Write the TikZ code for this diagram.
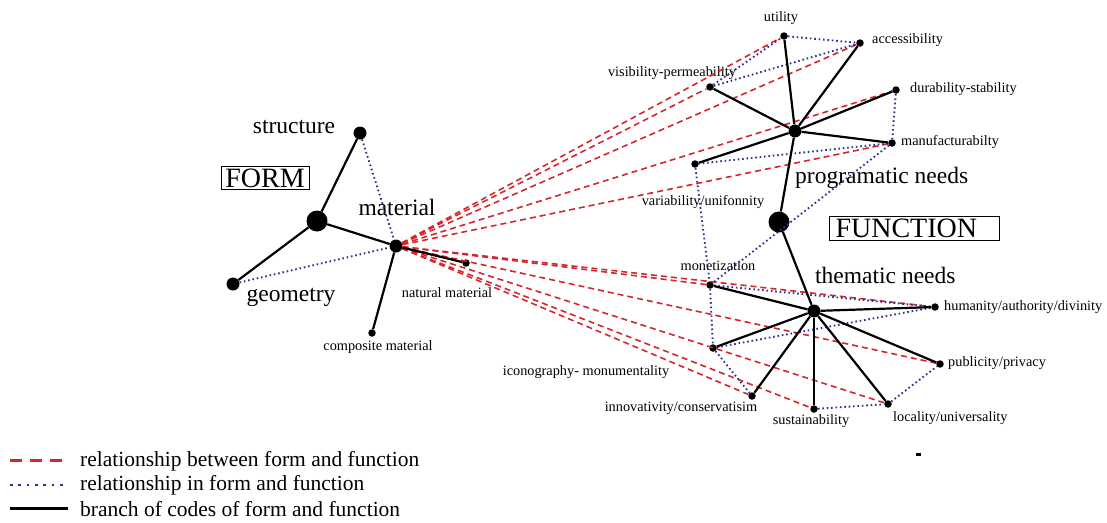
\documentclass[tikz,border=0pt]{standalone}
\usepackage{fontspec}
\setmainfont{Liberation Serif}
\definecolor{relred}{RGB}{212,38,44}
\definecolor{relblue}{RGB}{44,52,140}
\tikzset{
  hub/.style={circle, fill=black, inner sep=0pt, minimum size=21pt},
  mid/.style={circle, fill=black, inner sep=0pt, minimum size=13pt},
  leaf/.style={circle, fill=black, inner sep=0pt, minimum size=7.5pt},
  biglbl/.style={inner sep=0pt, font=\fontsize{23.5}{26}\selectfont},
  smalllbl/.style={inner sep=0pt, font=\fontsize{14.3}{16}\selectfont},
  legendlbl/.style={inner sep=0pt, anchor=west, font=\fontsize{21.5}{24}\selectfont},
  boxlbl/.style={draw, line width=1pt, inner sep=0pt, font=\fontsize{28}{30}\selectfont},
  branch/.style={line width=2.2pt, black},
  between/.style={relred, line width=1.6pt, dash pattern=on 6pt off 4pt},
  within/.style={relblue, line width=1.9pt, dash pattern=on 1.6pt off 2.8pt},
}
\begin{document}
\begin{tikzpicture}[x=1pt, y=-1pt]
\useasboundingbox (0,0) rectangle (1107,522);

% ---------- FORM ----------
\node[hub]  (form)      at (317,221) {};
\node[mid]  (structure) at (360,133) {};
\node[mid]  (geometry)  at (233,284) {};
\node[mid]  (material)  at (396,246) {};
\node[leaf] (natural)   at (466,263) {};
\node[leaf] (composite) at (372,333) {};

\node[biglbl] (structureL) at (294,127) {structure};
\node[biglbl] (geometryL)  at (291,297) {geometry};
\node[biglbl] (materialL)  at (397,207) {material};
\node[smalllbl] (naturalL)   at (447,293) {natural material};
\node[smalllbl] (compositeL) at (378,347) {composite material};
\node[boxlbl, minimum width=88pt, minimum height=23pt] (formL) at (265,178) {FORM};

% ---------- FUNCTION ----------
\node[hub] (function)   at (779,222) {};
\node[mid] (programatic) at (795,131) {};
\node[mid] (thematic)   at (814,311) {};

\node[leaf] (utility)    at (784,36) {};
\node[leaf] (access)     at (860,43) {};
\node[leaf] (visibility) at (710,87) {};
\node[leaf] (durability) at (896,90) {};
\node[leaf] (manufact)   at (892,143) {};
\node[leaf] (variab)     at (695,164) {};

\node[leaf] (monet)      at (710,285) {};
\node[leaf] (humanity)   at (935,307) {};
\node[leaf] (icono)      at (713,348) {};
\node[leaf] (publicity)  at (940,364) {};
\node[leaf] (innov)      at (752,396) {};
\node[leaf] (sustain)    at (814,409) {};
\node[leaf] (locality)   at (888,404) {};

\node[smalllbl] (utilityL)    at (781,18) {utility};
\node[smalllbl, anchor=west] (accessL) at (872,40) {accessibility};
\node[smalllbl] (visibilityL) at (672,73) {visibility-permeability};
\node[smalllbl, anchor=west] (durabilityL) at (910,89) {durability-stability};
\node[smalllbl, anchor=west] (manufactL) at (901,142) {manufacturabilty};
\node[smalllbl] (variabL)     at (703,202) {variability/unifonnity};
\node[biglbl, anchor=west] (programaticL) at (795,178) {programatic needs};

\node[smalllbl] (monetL)      at (718,266) {monetization};
\node[smalllbl, anchor=west] (humanityL) at (944,307) {humanity/authority/divinity};
\node[smalllbl] (iconoL)      at (586,372) {iconography- monumentality};
\node[smalllbl, anchor=west] (publicityL) at (948,363) {publicity/privacy};
\node[smalllbl] (innovL)      at (681,408) {innovativity/conservatisim};
\node[smalllbl] (sustainL)    at (811,421) {sustainability};
\node[smalllbl, anchor=west] (localityL) at (893,418) {locality/universality};
\node[biglbl, anchor=west] (thematicL) at (815,275) {thematic needs};
\node[boxlbl, anchor=west, minimum width=170pt, minimum height=24pt,
      text width=164pt, align=left] (functionL) at (829,228) {\hspace{3pt}FUNCTION};

% small stray mark
\fill (916,453) rectangle (921,456);

% ---------- relationships between form and function ----------
\foreach \t in {utility, access, visibility, durability, manufact,
                monet, humanity, publicity, innov, sustain, locality}
  \draw[between] (material) -- (\t);

% ---------- relationships in form and function ----------
\draw[within] (structure) -- (material);
\draw[within] (geometry) -- (material);
\draw[within] (utility) -- (access);
\draw[within] (visibility) -- (utility);
\draw[within] (visibility) -- (access);
\draw[within] (durability) -- (manufact);
\draw[within] (manufact) -- (variab);
\draw[within] (manufact) -- (monet);
\draw[within] (variab) -- (monet);
\draw[within] (monet) -- (icono);
\draw[within] (monet) -- (humanity);
\draw[within] (icono) -- (humanity);
\draw[within] (icono) -- (innov);
\draw[within] (sustain) -- (locality);
\draw[within] (locality) -- (publicity);

% ---------- branches of codes ----------
\draw[branch] (form) -- (structure);
\draw[branch] (form) -- (geometry);
\draw[branch] (form) -- (material);
\draw[branch] (material) -- (natural);
\draw[branch] (material) -- (composite);

\draw[branch] (function) -- (programatic);
\draw[branch] (function) -- (thematic);
\foreach \t in {utility, access, visibility, durability, manufact, variab}
  \draw[branch] (programatic) -- (\t);
\foreach \t in {monet, humanity, icono, publicity, innov, sustain, locality}
  \draw[branch] (thematic) -- (\t);

% ---------- legend ----------
\coordinate (l1a) at (10,460); \coordinate (l1b) at (68,460);
\coordinate (l2a) at (10,485); \coordinate (l2b) at (68,485);
\coordinate (l3a) at (10,508); \coordinate (l3b) at (68,508);
\draw[relred, line width=3pt, dash pattern=on 12pt off 8pt] (l1a) -- (l1b);
\draw[relblue, line width=2.8pt, dash pattern=on 2.8pt off 5.5pt] (l2a) -- (l2b);
\draw[line width=3pt] (l3a) -- (l3b);
\node[legendlbl] (leg1) at (80,461) {relationship between form and function};
\node[legendlbl] (leg2) at (80,485) {relationship in form and function};
\node[legendlbl] (leg3) at (80,509) {branch of codes of form and function};
\end{tikzpicture}
\end{document}
